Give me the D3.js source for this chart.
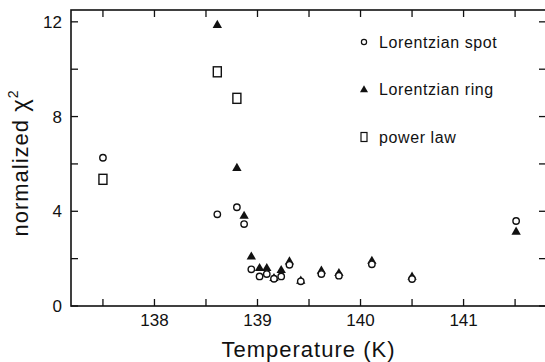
<!DOCTYPE html>
<html>
<head>
<meta charset="utf-8">
<script src="https://cdn.jsdelivr.net/npm/d3@7"></script>
<style>
  body { margin: 0; background: #fff; }
  text { font-family: "Liberation Sans", Arial, sans-serif; fill: #111; }
</style>
</head>
<body>
<svg width="545" height="362"></svg>
<script>
// temperatures (K) and normalized chi^2 for each fit model
let spotT = [137.5, 138.61, 138.80, 138.87, 138.94, 139.02, 139.09, 139.16, 139.23, 139.31, 139.42, 139.62, 139.79, 140.11, 140.50, 141.51];
let spotChi = [6.26, 3.87, 4.17, 3.46, 1.55, 1.25, 1.35, 1.15, 1.25, 1.74, 1.04, 1.35, 1.28, 1.76, 1.14, 3.59];

let ringT = [138.61, 138.80, 138.87, 138.94, 139.02, 139.09, 139.16, 139.23, 139.31, 139.42, 139.62, 139.79, 140.11, 140.50, 141.51];
let ringChi = [11.9, 5.86, 3.84, 2.12, 1.63, 1.63, 1.21, 1.55, 1.91, 1.10, 1.52, 1.42, 1.94, 1.27, 3.17];

let powT = [137.5, 138.61, 138.80];
let powChi = [5.35, 9.89, 8.77];

let xTicks = [137.5, 138, 138.5, 139, 139.5, 140, 140.5, 141, 141.5];
let xLabels = [138, 139, 140, 141];
let yTicks = [0, 2, 4, 6, 8, 10, 12];
let yLabels = [0, 4, 8, 12];

let legendNames = ["Lorentzian spot", "Lorentzian ring", "power law"];

let svg = d3.select("svg"),
  x0 = 71, x1 = 546, y0 = 306, y1 = 10;

let x = d3.scaleLinear().domain([137.19, 141.8]).range([x0, x1]);
let y = d3.scaleLinear().domain([0, 12.5]).range([y0, y1]);

let g = svg.append("g");

// frame
g.append("rect")
  .attr("x", x0).attr("y", y1)
  .attr("width", x1 - x0).attr("height", y0 - y1)
  .attr("fill", "none").attr("stroke", "#111").attr("stroke-width", 1.6);

let tick = 7;

// inward ticks on all four sides
g.append("g").selectAll("line").data(xTicks).enter().append("line")
  .attr("x1", (d) => x(d)).attr("x2", (d) => x(d))
  .attr("y1", y0).attr("y2", y0 - tick)
  .attr("stroke", "#111").attr("stroke-width", 1.3);
g.append("g").selectAll("line").data(xTicks).enter().append("line")
  .attr("x1", (d) => x(d)).attr("x2", (d) => x(d))
  .attr("y1", y1).attr("y2", y1 + tick)
  .attr("stroke", "#111").attr("stroke-width", 1.3);
g.append("g").selectAll("line").data(yTicks).enter().append("line")
  .attr("x1", x0).attr("x2", x0 + tick)
  .attr("y1", (d) => y(d)).attr("y2", (d) => y(d))
  .attr("stroke", "#111").attr("stroke-width", 1.3);
g.append("g").selectAll("line").data(yTicks).enter().append("line")
  .attr("x1", x1).attr("x2", x1 - tick)
  .attr("y1", (d) => y(d)).attr("y2", (d) => y(d))
  .attr("stroke", "#111").attr("stroke-width", 1.3);

// tick labels
g.append("g").selectAll("text").data(xLabels).enter().append("text")
  .attr("x", (d) => x(d)).attr("y", y0 + 20)
  .attr("text-anchor", "middle").attr("font-size", 17)
  .text((d) => d);
g.append("g").selectAll("text").data(yLabels).enter().append("text")
  .attr("x", x0 - 9).attr("y", (d) => y(d) + 6)
  .attr("text-anchor", "end").attr("font-size", 17)
  .text((d) => d);

// axis titles
svg.append("text")
  .attr("x", (x0 + x1) / 2).attr("y", 357)
  .attr("text-anchor", "middle").attr("font-size", 22)
  .attr("letter-spacing", 1)
  .text("Temperature (K)");

let yt = svg.append("text")
  .attr("transform", "translate(28," + ((y0 + y1) / 2 + 5) + ") rotate(-90)")
  .attr("text-anchor", "middle").attr("font-size", 22)
  .attr("letter-spacing", 1);
yt.append("tspan").text("normalized ");
yt.append("tspan").attr("font-size", 24).text("\u03c7");
yt.append("tspan").attr("font-size", 14).attr("dy", -10).text("2");

// markers
let tri = d3.symbol().type(d3.symbolTriangle);

g.append("g").selectAll("rect").data(powT).enter().append("rect")
  .attr("x", (d) => x(d) - 4).attr("y", (d, i) => y(powChi[i]) - 5)
  .attr("width", 8).attr("height", 10)
  .attr("fill", "#fff").attr("stroke", "#111").attr("stroke-width", 1.4);

g.append("g").selectAll("path").data(ringT).enter().append("path")
  .attr("transform", (d, i) => "translate(" + x(d) + "," + (y(ringChi[i]) + 1) + ")")
  .attr("d", tri.size(38))
  .attr("fill", "#111");

g.append("g").selectAll("circle").data(spotT).enter().append("circle")
  .attr("cx", (d) => x(d)).attr("cy", (d, i) => y(spotChi[i]))
  .attr("r", 3.2)
  .attr("fill", "#fff").attr("stroke", "#111").attr("stroke-width", 1.4);

// legend
let lx = 364, ly = [42, 89, 137];
let leg = svg.append("g");
leg.append("circle").attr("cx", lx).attr("cy", ly[0]).attr("r", 2.6)
  .attr("fill", "none").attr("stroke", "#111").attr("stroke-width", 1.2);
leg.append("path").attr("transform", "translate(" + lx + "," + (ly[1] + 1) + ")")
  .attr("d", tri.size(28)).attr("fill", "#111");
leg.append("rect").attr("x", lx - 3).attr("y", ly[2] - 4.5)
  .attr("width", 6).attr("height", 9)
  .attr("fill", "none").attr("stroke", "#111").attr("stroke-width", 1.2);
leg.selectAll("text").data(legendNames).enter().append("text")
  .attr("x", lx + 15).attr("y", (d, i) => ly[i] + 6)
  .attr("font-size", 16).attr("letter-spacing", 0.6)
  .text((d) => d);
</script>
</body>
</html>
